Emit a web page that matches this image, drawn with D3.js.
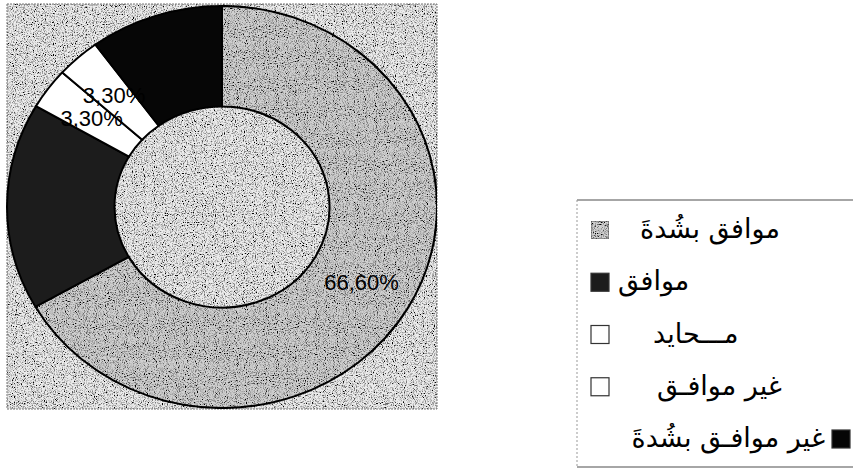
<!DOCTYPE html>
<html lang="ar">
<head>
<meta charset="UTF-8">
<title>Donut</title>
<style>
  body { margin: 0; background: #fff; }
  svg { display: block; }
</style>
</head>
<body>
<script src="https://d3js.org/d3.v7.min.js"></script>
<script>
// data (30 answers: 20 / 5 / 1 / 1 / 3)
const categories = ['موافق بشُدةَ', 'موافق', 'مـــحايد', 'غير موافـق', 'غير موافـق بشُدةَ'];
const values = [66.6, 16.6, 3.3, 3.3, 10];
const valueLabels = ['66,60%', '', '3,30%', '3,30%', ''];
const colors = ['#d0d0d0', '#1c1c1c', '#ffffff', '#ffffff', '#060606'];

const W = 853, H = 470;
const cx = 222, cy = 207, R = 215, sy = 0.935;

const svg = d3.select('body').append('svg')
    .attr('width', W).attr('height', H);

// speckle texture like the scanned original
const defs = svg.append('defs');
const f = defs.append('filter').attr('id', 'grain')
    .attr('x', 0).attr('y', 0).attr('width', '100%').attr('height', '100%');
f.append('feTurbulence').attr('type', 'fractalNoise').attr('baseFrequency', 0.9)
    .attr('numOctaves', 2).attr('seed', 4).attr('result', 'n');
f.append('feColorMatrix').attr('in', 'n').attr('type', 'matrix')
    .attr('values', '0 0 0 0 0  0 0 0 0 0  0 0 0 0 0  3.4 0 0 0 -1.55').attr('result', 'dots');
f.append('feComposite').attr('in', 'dots').attr('in2', 'SourceAlpha')
    .attr('operator', 'in').attr('result', 'dc');
const m = f.append('feMerge');
m.append('feMergeNode').attr('in', 'SourceGraphic');
m.append('feMergeNode').attr('in', 'dc');

// plot area
svg.append('rect')
    .attr('x', 7).attr('y', 4).attr('width', 430).attr('height', 405)
    .attr('fill', '#ececec')
    .attr('filter', 'url(#grain)');
svg.append('rect')
    .attr('x', 7).attr('y', 4).attr('width', 430).attr('height', 405)
    .attr('fill', 'none').attr('stroke', '#777').attr('stroke-width', 1)
    .attr('stroke-dasharray', '2,1');

const pie = d3.pie().sort(null).value(d => d);
const arcs = pie(values);
const arc = d3.arc().innerRadius(R * 0.5).outerRadius(R);

const g = svg.append('g')
    .attr('transform', `translate(${cx},${cy}) scale(1,${sy})`);

g.selectAll('path.slice')
    .data(arcs)
    .enter().append('path')
    .attr('class', 'slice')
    .attr('d', arc)
    .attr('fill', (d, i) => colors[i])
    .attr('filter', (d, i) => i === 0 ? 'url(#grain)' : null)
    .attr('stroke', '#000')
    .attr('stroke-width', 2)
    .attr('vector-effect', 'non-scaling-stroke');

// value labels at slice centroids (kept upright, only the ellipse is squashed)
const lab = svg.append('g').attr('transform', `translate(${cx},${cy})`);
lab.selectAll('text')
    .data(arcs)
    .enter().append('text')
    .attr('x', d => arc.centroid(d)[0])
    .attr('y', d => arc.centroid(d)[1] * sy)
    .attr('dy', '0.35em')
    .attr('text-anchor', 'middle')
    .style('font-family', '"Liberation Sans", Arial, sans-serif')
    .style('font-size', '22px')
    .style('fill', '#000')
    .text((d, i) => valueLabels[i]);

// legend
const lx = 577, ly = 200;
const legend = svg.append('g');
legend.append('line').attr('x1', lx).attr('x2', W).attr('y1', ly).attr('y2', ly)
    .attr('stroke', '#888').attr('stroke-width', 1.5);
legend.append('line').attr('x1', lx).attr('x2', W).attr('y1', 467).attr('y2', 467)
    .attr('stroke', '#888').attr('stroke-width', 1.5);
legend.append('line').attr('x1', lx).attr('x2', lx).attr('y1', ly).attr('y2', 467)
    .attr('stroke', '#999').attr('stroke-width', 1).attr('stroke-dasharray', '2,2');

const rowY = d3.scalePoint().domain(d3.range(categories.length)).range([230, 439]);
// swatch / text placement per row, as in the original (rows 1-4 box left, last row box right)
const swatchX = [591, 591, 591, 591, 832];
const textX = [640, 618, 653, 657, 825];
const textAnchor = ['start', 'start', 'start', 'start', 'end'];

const rows = legend.selectAll('g.row')
    .data(categories)
    .enter().append('g')
    .attr('class', 'row');

rows.append('rect')
    .attr('x', (d, i) => swatchX[i])
    .attr('y', (d, i) => rowY(i) - 9)
    .attr('width', 18).attr('height', 18)
    .attr('fill', (d, i) => colors[i])
    .attr('filter', (d, i) => i === 0 ? 'url(#grain)' : null)
    .attr('stroke', (d, i) => i === 0 ? '#666' : '#333')
    .attr('stroke-width', 1.2);

rows.append('text')
    .attr('x', (d, i) => textX[i])
    .attr('y', (d, i) => rowY(i))
    .attr('dy', '0.3em')
    .attr('text-anchor', (d, i) => textAnchor[i])
    .attr('direction', 'ltr')
    .style('font-family', '"DejaVu Sans", sans-serif')
    .style('font-size', '27px')
    .style('fill', '#000')
    .text(d => d);
</script>
</body>
</html>
